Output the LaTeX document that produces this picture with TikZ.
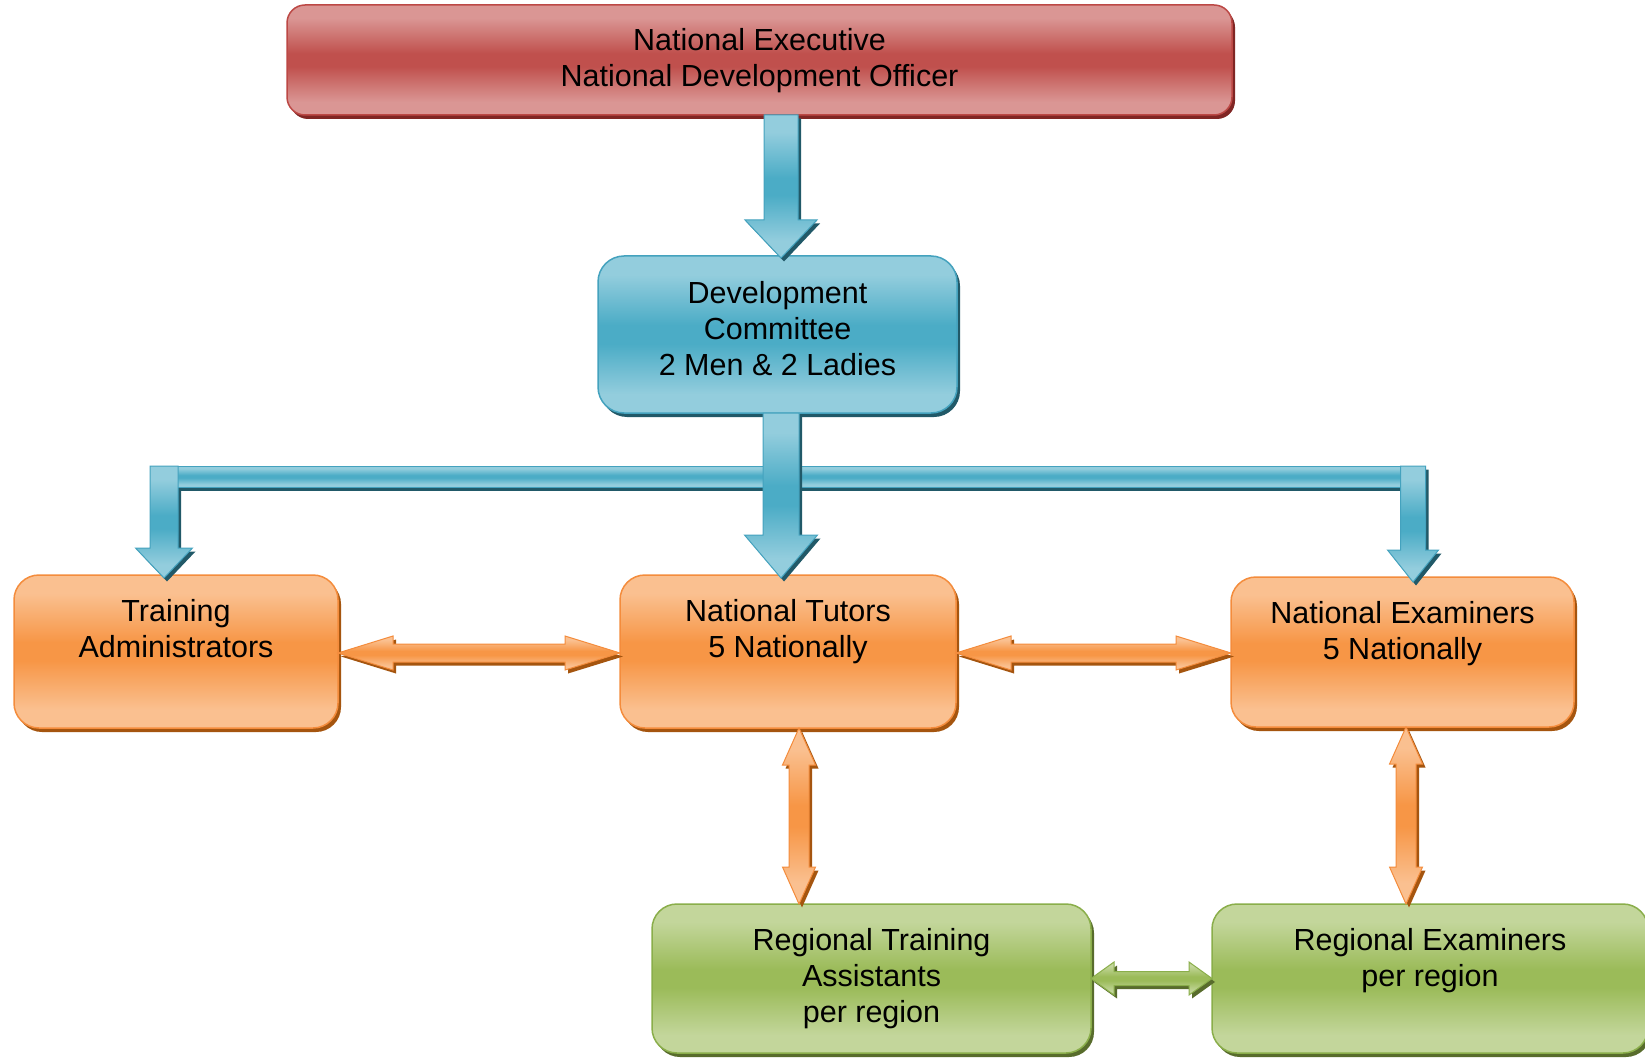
\documentclass[tikz,border=0pt]{standalone}
\usepackage{fontspec}
\setmainfont{Liberation Sans}
\usetikzlibrary{calc,shadows}

\definecolor{redL}{RGB}{218,150,148}
\definecolor{redM}{RGB}{192,80,77}
\definecolor{redB}{RGB}{188,72,69}
\definecolor{redS}{RGB}{128,38,36}
\definecolor{blueL}{RGB}{147,205,221}
\definecolor{blueM}{RGB}{75,172,198}
\definecolor{blueB}{RGB}{68,162,190}
\definecolor{blueS}{RGB}{33,89,104}
\definecolor{orL}{RGB}{250,192,144}
\definecolor{orM}{RGB}{247,150,70}
\definecolor{orB}{RGB}{244,140,60}
\definecolor{orS}{RGB}{165,85,15}
\definecolor{grL}{RGB}{195,214,155}
\definecolor{grM}{RGB}{155,187,89}
\definecolor{grB}{RGB}{138,174,74}
\definecolor{grS}{RGB}{88,108,44}

\pgfdeclareverticalshading{glossred}{100bp}{color(0bp)=(redL); color(25bp)=(redL); color(31bp)=(redL); color(47bp)=(redM); color(53bp)=(redM); color(69bp)=(redL); color(75bp)=(redL); color(100bp)=(redL)}
\pgfdeclareverticalshading{glossblue}{100bp}{color(0bp)=(blueL); color(25bp)=(blueL); color(31bp)=(blueL); color(47bp)=(blueM); color(53bp)=(blueM); color(69bp)=(blueL); color(75bp)=(blueL); color(100bp)=(blueL)}
\pgfdeclareverticalshading{glossorange}{100bp}{color(0bp)=(orL); color(25bp)=(orL); color(31bp)=(orL); color(47bp)=(orM); color(53bp)=(orM); color(69bp)=(orL); color(75bp)=(orL); color(100bp)=(orL)}
\pgfdeclareverticalshading{glossgreen}{100bp}{color(0bp)=(grL); color(25bp)=(grL); color(31bp)=(grL); color(47bp)=(grM); color(53bp)=(grM); color(69bp)=(grL); color(75bp)=(grL); color(100bp)=(grL)}

\newcommand\boxfont{\fontsize{30.5}{36}\selectfont}
\newcommand\btext[4]{\parbox[c][#2][t]{#1}{\centering\rule{0pt}{#3}#4}}

% single downward block arrow: style, start, tip, shaft half, head half, head length
\newcommand\blockdown[6]{\path[#1] let \p1=(#2), \p2=(#3) in
  (\x2-#4pt,\y1) -- (\x2-#4pt,\y2+#6pt) -- (\x2-#5pt,\y2+#6pt) -- (\x2,\y2)
  -- (\x2+#5pt,\y2+#6pt) -- (\x2+#4pt,\y2+#6pt) -- (\x2+#4pt,\y1) -- cycle;}
% elbow block arrow: colour prefix, start on bar, tip, bar half, shaft half, head half, head length
\newcommand\elbowbar[4]{\path[#1] let \p1=(#2), \p2=(#3) in
  (\x1,\y1+#4pt) rectangle (\x2,\y1-#4pt);}
\newcommand\elbowdrop[8]{\path[#1] let \p1=(#2), \p2=(#3) in
  (\x2-#5pt,\y1+#4pt) -- (\x2-#5pt,\y2+#7pt) -- (\x2-#6pt,\y2+#7pt) -- (\x2,\y2)
  -- (\x2+#6pt,\y2+#7pt) -- (\x2+#5pt,\y2+#7pt) -- (\x2+#5pt,\y1+#4pt) -- cycle;}
\newcommand\elbow[7]{%
  \elbowbar{#1shadow}{#2}{#3}{#4}%
  \elbowdrop{#1shadow}{#2}{#3}{#4}{#5}{#6}{#7}{}%
  \elbowbar{#1piece}{#2}{#3}{#4}%
  \elbowdrop{#1piece}{#2}{#3}{#4}{#5}{#6}{#7}{}}
% horizontal double block arrow: style, left tip, right tip, shaft half, head half, head length
\newcommand\dblh[6]{\path[#1] let \p1=(#2), \p2=(#3) in
  (\x1,\y1) -- (\x1+#6pt,\y1+#5pt) -- (\x1+#6pt,\y1+#4pt) -- (\x2-#6pt,\y1+#4pt)
  -- (\x2-#6pt,\y1+#5pt) -- (\x2,\y1) -- (\x2-#6pt,\y1-#5pt) -- (\x2-#6pt,\y1-#4pt)
  -- (\x1+#6pt,\y1-#4pt) -- (\x1+#6pt,\y1-#5pt) -- cycle;}
% vertical double block arrow: style, top tip, bottom tip, shaft half, head half, head length
\newcommand\dblv[6]{\path[#1] let \p1=(#2), \p2=(#3) in
  (\x1,\y1) -- (\x1+#5pt,\y1-#6pt) -- (\x1+#4pt,\y1-#6pt) -- (\x1+#4pt,\y2+#6pt)
  -- (\x1+#5pt,\y2+#6pt) -- (\x1,\y2) -- (\x1-#5pt,\y2+#6pt) -- (\x1-#4pt,\y2+#6pt)
  -- (\x1-#4pt,\y1-#6pt) -- (\x1-#5pt,\y1-#6pt) -- cycle;}

\tikzset{
  gbox/.style n args={4}{shade, shading=#1, draw=#2, line width=1.5pt,
    drop shadow={shadow xshift=3pt, shadow yshift=-4pt, fill=#3, opacity=1},
    rounded corners=#4, inner sep=0pt, outer sep=0pt, font=\boxfont, text=black},
  redbox/.style={gbox={glossred}{redB}{redS}{18pt}},
  bluebox/.style={gbox={glossblue}{blueB}{blueS}{26pt}},
  orangebox/.style={gbox={glossorange}{orB}{orS}{25pt}},
  greenbox/.style={gbox={glossgreen}{grB}{grS}{25pt}},
  garrow/.style n args={3}{shade, shading=#1, draw=#2, line width=1pt,
    drop shadow={shadow xshift=3pt, shadow yshift=-3.5pt, fill=#3, opacity=1}},
  bluearrow/.style={garrow={glossblue}{blueB}{blueS}},
  orarrow/.style={garrow={glossorange}{orB}{orS}},
  grarrow/.style={garrow={glossgreen}{grB}{grS}},
  blueshadow/.style={fill=blueS, transform canvas={shift={(3pt,-3.5pt)}}},
  bluepiece/.style={shade, shading=glossblue, draw=blueB, line width=1pt},
}

\begin{document}
\begin{tikzpicture}[x=1pt,y=-1pt]
\fill[white] (0,0) rectangle (1645,1059);
\useasboundingbox (0,0) rectangle (1645,1059);

\node[redbox, minimum width=945pt, minimum height=110pt] (ne) at (759.5,60)
  {\btext{945pt}{110pt}{46pt}{National Executive\\National Development Officer}};
\node[bluebox, minimum width=359pt, minimum height=157pt] (dc) at (777.5,334.5)
  {\btext{359pt}{157pt}{47pt}{Development\\Committee\\2 Men \& 2 Ladies}};
\node[orangebox, minimum width=324pt, minimum height=153pt] (ta) at (176,651.5)
  {\btext{324pt}{153pt}{46pt}{Training\\Administrators}};
\node[orangebox, minimum width=336pt, minimum height=153pt] (nt) at (788,651.5)
  {\btext{336pt}{153pt}{46pt}{National Tutors\\5 Nationally}};
\node[orangebox, minimum width=343pt, minimum height=150pt] (nx) at (1402.5,652)
  {\btext{343pt}{150pt}{46pt}{National Examiners\\5 Nationally}};
\node[greenbox, minimum width=439pt, minimum height=149pt] (rta) at (871.5,978.5)
  {\btext{439pt}{149pt}{46pt}{Regional Training\\Assistants\\per region}};
\node[greenbox, minimum width=436pt, minimum height=149pt] (rx) at (1430,978.5)
  {\btext{436pt}{149pt}{46pt}{Regional Examiners\\per region}};

% blue connectors
\blockdown{bluearrow}{ne.south}{$(dc.north)+(3.5,2)$}{17}{36}{38}
\elbow{blue}{$(dc.south)+(3.5,63.5)$}{$(ta.north)+(-12,3)$}{10.5}{14}{28.5}{30}
\elbow{blue}{$(dc.south)+(3.5,63.5)$}{$(nx.north)+(10.5,5)$}{10.5}{12.5}{25.5}{32}
\blockdown{bluearrow}{dc.south}{$(nt.north)+(-7,3)$}{18}{36.5}{43}

% orange connectors
\dblh{orarrow}{$(ta.east)+(0,1.5)$}{nt.west}{9}{17}{55}
\dblh{orarrow}{$(nt.east)+(0,1.5)$}{nx.west}{9}{17}{55}
\dblv{orarrow}{$(nt.south)+(11,0)$}{rta.north}{10}{16.5}{37}
\dblv{orarrow}{$(nx.south)+(3.5,0)$}{rx.north}{10}{16.5}{37}

% green connector
\dblh{grarrow}{rta.east}{rx.west}{7}{16.5}{23}
\end{tikzpicture}
\end{document}
